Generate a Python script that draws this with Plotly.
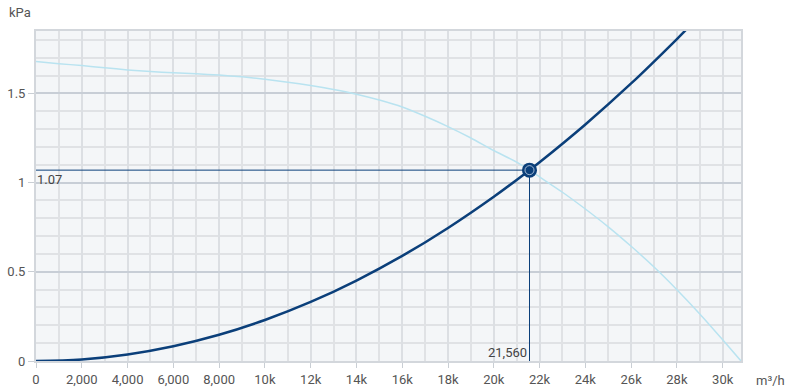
import plotly.graph_objects as go

# System curve
sys_x = [0, 2000, 4000, 6000, 8000, 10000, 12000, 14000, 16000, 18000, 20000, 21560, 22000, 24000, 26000, 28000, 28400]
sys_y = [0, 0.009, 0.037, 0.083, 0.147, 0.230, 0.331, 0.451, 0.589, 0.746, 0.921, 1.07, 1.114, 1.326, 1.556, 1.805, 1.857]

# Fan curve
fan_x = [0, 1000, 2000, 3000, 4000, 5000, 6000, 7000, 8000, 9000, 10000, 11000, 12000, 13000, 14000, 15000,
         16000, 17000, 18000, 19000, 20000, 21000, 21560, 22000, 23000, 24000, 25000, 26000, 27000, 28000,
         29000, 30000, 30800]
fan_y = [1.679, 1.667, 1.656, 1.644, 1.632, 1.623, 1.616, 1.610, 1.603, 1.593, 1.580, 1.563, 1.544, 1.522, 1.496, 1.463,
         1.424, 1.372, 1.314, 1.250, 1.180, 1.115, 1.07, 1.032, 0.946, 0.852, 0.752, 0.643, 0.527, 0.400,
         0.264, 0.119, 0.0]

# Operating point
op_x = 21560
op_y = 1.07

x_tickvals = [0, 2000, 4000, 6000, 8000, 10000, 12000, 14000, 16000, 18000, 20000, 22000, 24000, 26000, 28000, 30000]
x_ticktext = ["0", "2,000", "4,000", "6,000", "8,000", "10k", "12k", "14k", "16k", "18k", "20k", "22k", "24k", "26k", "28k", "30k"]
y_tickvals = [0, 0.5, 1, 1.5]
y_ticktext = ["0", "0.5", "1", "1.5"]

X_MAX = 30800
Y_MAX = 1.85
NAVY = "#0b3f7a"
LIGHT = "#b9e3f0"
FONT = "Roboto"
TXT = "#555"

fig = go.Figure()
fig.add_trace(go.Scatter(x=fan_x, y=fan_y, mode="lines", line=dict(color=LIGHT, width=1.5, shape="spline", smoothing=0.6),
                         hoverinfo="skip"))
fig.add_trace(go.Scatter(x=sys_x, y=sys_y, mode="lines", line=dict(color=NAVY, width=2.5, shape="spline"),
                         hoverinfo="skip"))
# reference lines
fig.add_trace(go.Scatter(x=[0, op_x, op_x], y=[op_y, op_y, 0], mode="lines",
                         line=dict(color=NAVY, width=1), hoverinfo="skip"))
# marker
fig.add_trace(go.Scatter(x=[op_x], y=[op_y], mode="markers",
                         marker=dict(size=15, color=NAVY, line=dict(color=NAVY, width=0)), hoverinfo="skip"))
fig.add_trace(go.Scatter(x=[op_x], y=[op_y], mode="markers",
                         marker=dict(size=9, color=NAVY, line=dict(color="rgba(200,215,235,0.8)", width=1)),
                         hoverinfo="skip"))

minor_x = [v for v in range(1000, X_MAX, 2000)]
minor_y = [round(v * 0.1, 1) for v in range(1, 19) if v % 5 != 0]

fig.update_layout(
    width=789, height=392,
    margin=dict(l=36, r=48, t=31, b=31),
    paper_bgcolor="white", plot_bgcolor="#f4f6f8",
    showlegend=False,
    font=dict(family=FONT, size=13, color=TXT),
    xaxis=dict(range=[0, X_MAX], tickmode="array", tickvals=x_tickvals, ticktext=x_ticktext,
               showgrid=True, gridcolor="#dcdfe3", gridwidth=1.5, automargin=False,
               ticks="outside", ticklen=5, tickcolor="#c9ced4", tickwidth=1,
               showline=True, linecolor="#d3d7dc", linewidth=2, mirror=True,
               zeroline=False, tickfont=dict(size=13, color=TXT),
               minor=dict(tickmode="array", tickvals=minor_x, showgrid=True, gridcolor="#e0e2e5", gridwidth=1.5, ticks="")),
    yaxis=dict(range=[0, Y_MAX], tickmode="array", tickvals=y_tickvals, ticktext=y_ticktext,
               showgrid=True, gridcolor="#c8ced6", gridwidth=1.5, automargin=False,
               ticks="outside", ticklen=6, tickcolor="#c9ced4", tickwidth=1,
               showline=True, linecolor="#d3d7dc", linewidth=2, mirror=True,
               zeroline=False, tickfont=dict(size=13, color=TXT),
               minor=dict(tickmode="array", tickvals=minor_y, showgrid=True, gridcolor="#e0e2e5", gridwidth=1.5, ticks="")),
    annotations=[
        dict(text="kPa", xref="paper", yref="paper", x=0, y=1.0, xshift=-29, yshift=19, xanchor="left", yanchor="middle",
             showarrow=False, font=dict(size=13, color=TXT)),
        dict(text="m³/h", xref="paper", yref="paper", x=1.0, y=0, xshift=13, yshift=-19, xanchor="left", yanchor="middle",
             showarrow=False, font=dict(size=13, color=TXT)),
        dict(text=f"{op_y:.2f}", x=0, y=op_y, xref="x", yref="y", xanchor="left", yanchor="top",
             xshift=-1, yshift=0, showarrow=False, font=dict(size=13, color="#444")),
        dict(text=f"{op_x:,}", x=op_x, y=0, xref="x", yref="y", xanchor="right", yanchor="bottom",
             xshift=-1, yshift=-1, showarrow=False, font=dict(size=13, color="#444")),
    ],
)

fig.write_html("out.html")
